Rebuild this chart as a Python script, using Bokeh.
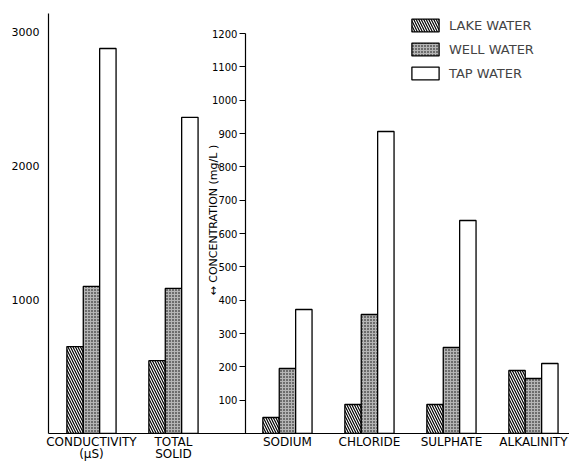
import math
from bokeh.plotting import figure
from bokeh.models import Range1d, LinearAxis, FixedTicker, Legend, LegendItem, Label
from bokeh.embed import file_html
from bokeh.resources import INLINE

# ---- data ----
left_categories = ["CONDUCTIVITY\n(μS)", "TOTAL\nSOLID"]
right_categories = ["SODIUM", "CHLORIDE", "SULPHATE", "ALKALINITY"]
series_names = ["LAKE WATER", "WELL WATER", "TAP WATER"]

left_lake = [650, 545]
left_well = [1100, 1085]
left_tap = [2880, 2365]

right_lake = [48, 87, 87, 189]
right_well = [195, 357, 258, 165]
right_tap = [372, 906, 639, 210]

left_ticks = [1000, 2000, 3000]
right_ticks = [100, 200, 300, 400, 500, 600, 700, 800, 900, 1000, 1100, 1200]

FONT = "DejaVu Sans"

# ---- layout helpers ----
gap = 0.39
left_x = [float(i) for i in range(len(left_categories))]
right_x = [len(left_categories) + gap + i for i in range(len(right_categories))]
bar_w = 0.2
offsets = [-0.2, 0.0, 0.2]

p = figure(width=569, height=464, output_backend="svg", toolbar_location=None,
           x_range=Range1d(-0.524, -0.524 + 521 / 82.0),
           y_range=Range1d(0, 3142),
           min_border_left=48, min_border_right=0, min_border_top=13, min_border_bottom=31)
p.extra_y_ranges = {"conc": Range1d(0, 1260)}
p.outline_line_color = None
p.xgrid.visible = False
p.ygrid.visible = False
p.background_fill_color = "white"

styles = [
    dict(fill_color="white", hatch_pattern="\\", hatch_color="black", hatch_scale=5, hatch_weight=1.2),
    dict(fill_color="#b5b5b5", hatch_pattern=".", hatch_color="black", hatch_scale=3, hatch_weight=1.2),
    dict(fill_color="white"),
]

left_vals = [left_lake, left_well, left_tap]
right_vals = [right_lake, right_well, right_tap]
legend_renderers = []
for k in range(3):
    r = p.vbar(x=[x + offsets[k] for x in left_x], top=left_vals[k], bottom=0, width=bar_w,
               line_color="black", line_width=1.3, **styles[k])
    legend_renderers.append(r)
    p.vbar(x=[x + offsets[k] for x in right_x], top=right_vals[k], bottom=0, width=bar_w,
           line_color="black", line_width=1.3, y_range_name="conc", **styles[k])

# left axis (conductivity and total solid)
ya = p.yaxis[0]
ya.ticker = FixedTicker(ticks=left_ticks)
ya.major_tick_out = 0
ya.major_tick_in = 0
ya.minor_tick_out = 0
ya.minor_tick_in = 0
ya.axis_line_width = 1.2
ya.axis_line_color = "black"
ya.major_label_text_font = FONT
ya.major_label_text_font_size = "11px"
ya.major_label_text_color = "black"
ya.major_label_standoff = 9

# middle axis (concentration)
ax2 = LinearAxis(y_range_name="conc", fixed_location=1.878, bounds=(0, 1200),
                 ticker=FixedTicker(ticks=right_ticks))
ax2.major_tick_out = 6
ax2.major_tick_in = 0
ax2.minor_tick_out = 0
ax2.minor_tick_in = 0
ax2.axis_line_width = 1.2
ax2.axis_line_color = "black"
ax2.major_tick_line_color = "black"
ax2.major_label_text_font = FONT
ax2.major_label_text_font_size = "10px"
ax2.major_label_text_color = "black"
ax2.major_label_standoff = 2
p.add_layout(ax2, "left")

# title of the middle axis
p.add_layout(Label(x=1.488, y=640, y_range_name="conc", text="↔ CONCENTRATION (mg/L )",
                   angle=math.pi / 2, text_font=FONT, text_font_size="11px",
                   text_align="center", text_baseline="middle", text_color="black"))

# x axis
xa = p.xaxis[0]
all_x = left_x + right_x
all_labels = left_categories + right_categories
xa.ticker = FixedTicker(ticks=all_x)
xa.major_label_overrides = {x: lab for x, lab in zip(all_x, all_labels)}
xa.major_tick_out = 0
xa.major_tick_in = 0
xa.minor_tick_out = 0
xa.minor_tick_in = 0
xa.axis_line_width = 1.2
xa.axis_line_color = "black"
xa.major_label_text_font = FONT
xa.major_label_text_font_size = "12px"
xa.major_label_text_color = "black"
xa.major_label_text_line_height = 0.92
xa.major_label_standoff = 1

# arrow next to the 1000 label
p.add_layout(Label(x=-0.67, y=1000, y_offset=-9, text="⟶", text_font=FONT,
                   text_font_size="14px", text_align="center", text_baseline="middle"))

legend = Legend(items=[LegendItem(label=n, renderers=[r]) for n, r in zip(series_names, legend_renderers)],
                location=(360, 420 - 4 - 64), glyph_width=34, glyph_height=16, spacing=8,
                padding=0, margin=0, label_standoff=7, border_line_alpha=0,
                background_fill_alpha=0, label_text_font=FONT, label_text_font_size="13px",
                label_height=16)
p.add_layout(legend)

open("out.html", "w").write(file_html(p, INLINE))
